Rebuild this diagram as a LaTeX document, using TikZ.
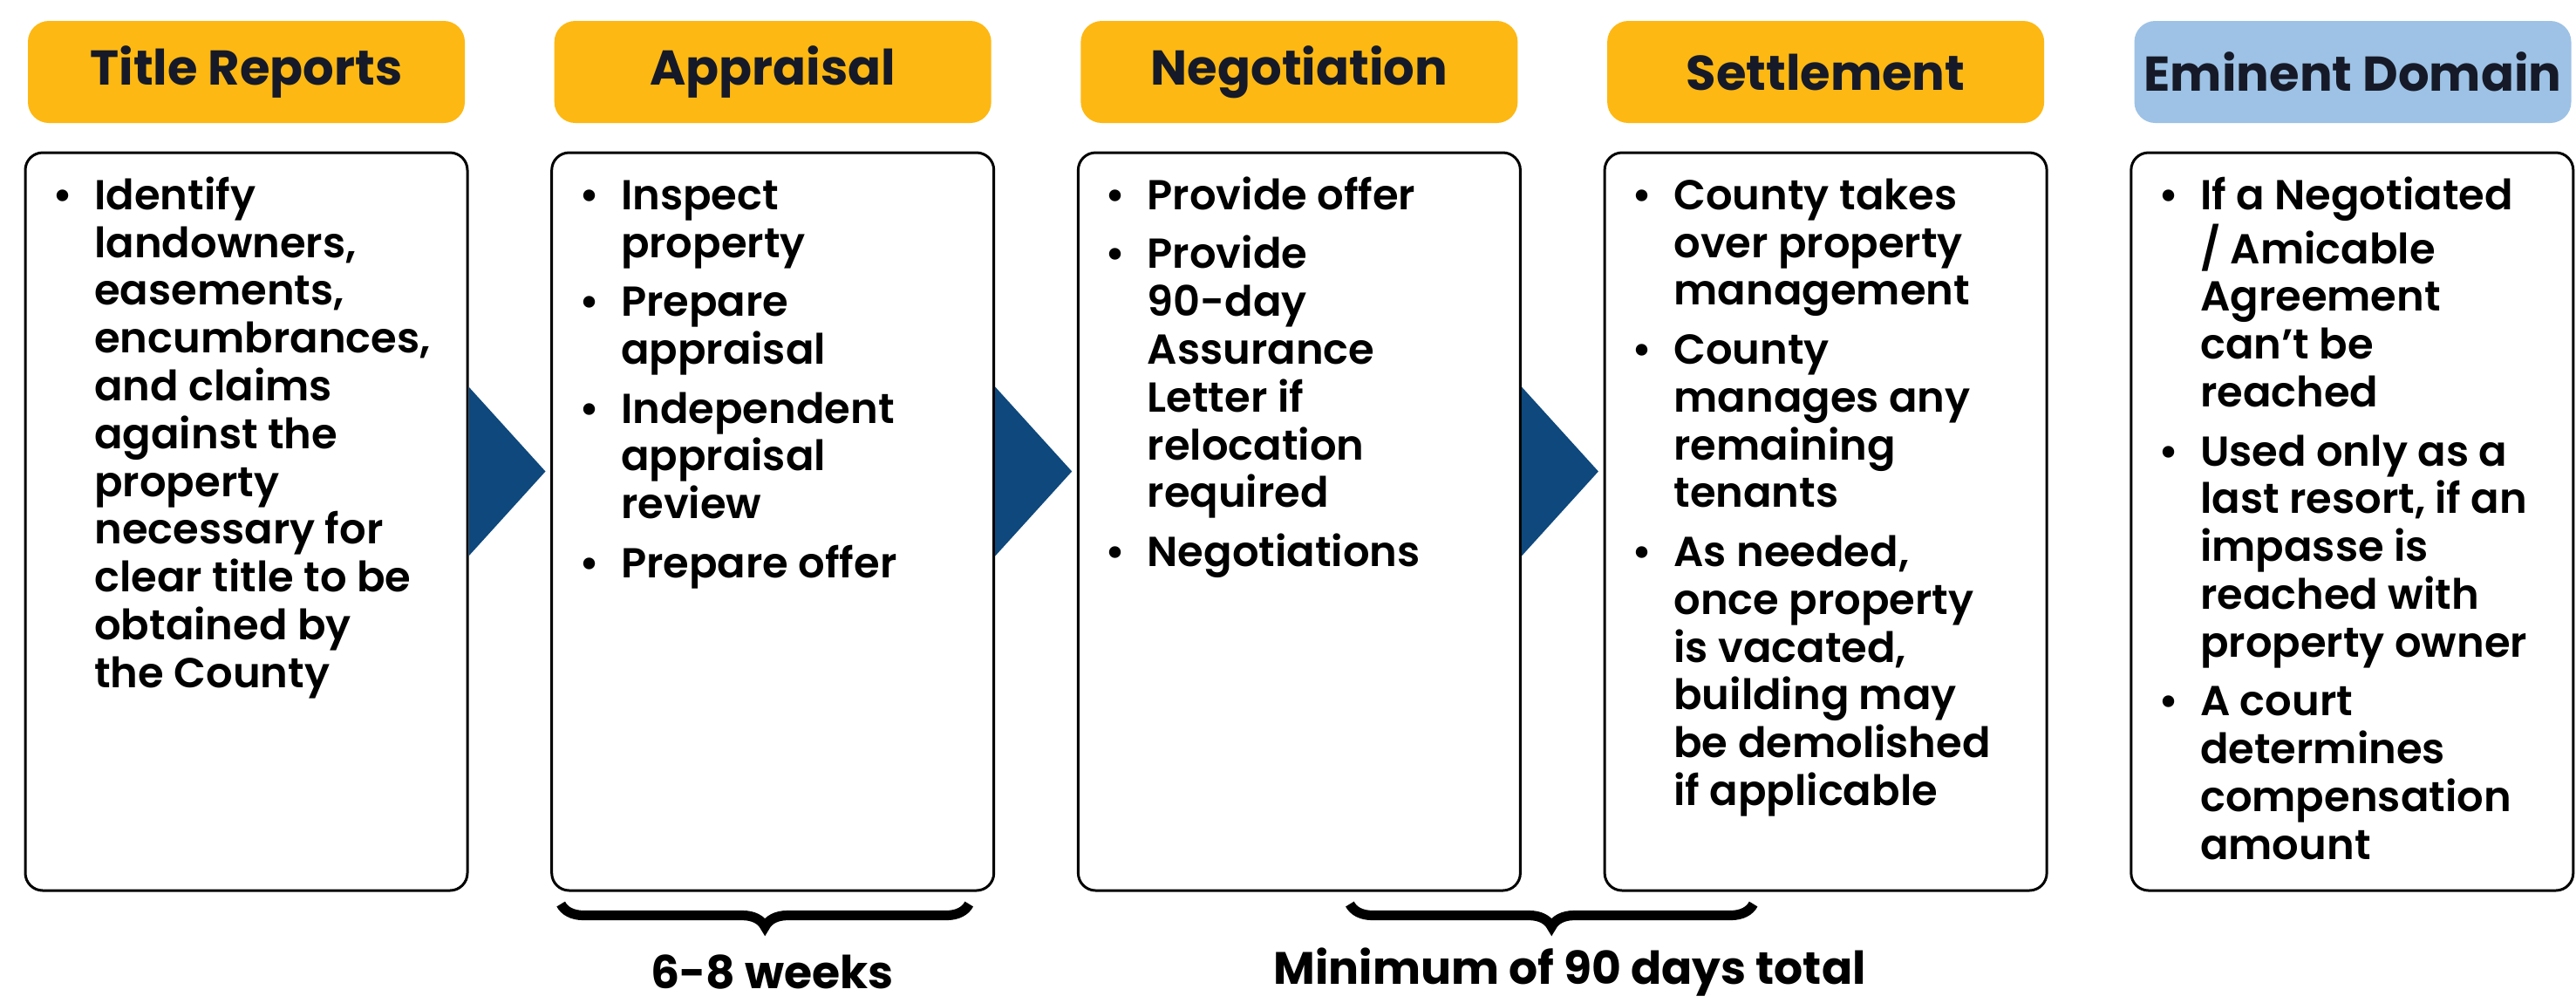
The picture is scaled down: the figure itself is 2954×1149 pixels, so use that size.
\documentclass[tikz,border=0pt]{standalone}
\usepackage{fontspec}
\setmainfont{Poppins}[UprightFont={* SemiBold},BoldFont={* Bold}]
\usetikzlibrary{positioning,calc,decorations.pathreplacing}
\definecolor{headyellow}{RGB}{253,184,19}
\definecolor{headblue}{RGB}{157,194,229}
\definecolor{arrowblue}{RGB}{14,72,124}
\definecolor{headtext}{RGB}{22,26,40}
\newcommand{\bul}{\makebox[12pt][l]{\textbullet}}
\newcommand{\steplist}[1]{\fontsize{12}{13.7}\selectfont\begin{tabular}{@{}l@{}l@{}}#1\end{tabular}}

\begin{document}
\begin{tikzpicture}[x=0.25pt,y=-0.25pt,
  stephead/.style={fill=headyellow,rounded corners=6pt,minimum width=125.25pt,minimum height=29.25pt,inner sep=0pt,text=headtext,font=\bfseries\fontsize{14}{16}\selectfont},
  stepbox/.style={draw=black,line width=0.75pt,rounded corners=5pt,minimum width=126.75pt,minimum height=211.5pt,inner sep=0pt},
  steptext/.style={inner sep=0pt,anchor=north west},
  flowarrow/.style={fill=arrowblue},
  timebrace/.style={decorate,decoration={brace,mirror,amplitude=6.5pt},line width=2.8pt},
  timelabel/.style={inner sep=0pt,font=\bfseries\fontsize{13}{15}\selectfont}]
\useasboundingbox (0,0) rectangle (2954,1149);
\path (282.5,82.5) node(h1)[stephead] {Title Reports};
\path (886.2,82.5) node(h2)[stephead] {Appraisal};
\path (1489.9,82.5) node(h3)[stephead] {Negotiation};
\path (2093.6,82.5) node(h4)[stephead] {Settlement};
\path (2698,82.5) node(h5)[stephead,fill=headblue] {Eminent Domain};
\path (282.5,598) node(b1)[stepbox] {};
\path (886.2,598) node(b2)[stepbox] {};
\path (1489.9,598) node(b3)[stepbox] {};
\path (2093.6,598) node(b4)[stepbox] {};
\path (2697.3,598) node(b5)[stepbox] {};
\node(t1)[steptext,below right=6.9pt and 8pt of b1.north west] {\steplist{\bul & Identify\\ & landowners,\\ & easements,\\ & encumbrances,\\ & and claims\\ & against the\\ & property\\ & necessary for\\ & clear title to be\\ & obtained by\\ & the County}};
\node(t2)[steptext,below right=6.9pt and 8pt of b2.north west] {\steplist{\bul & Inspect\\ & property\\[3.2pt] \bul & Prepare\\ & appraisal\\[3.2pt] \bul & Independent\\ & appraisal\\ & review\\[3.2pt] \bul & Prepare offer}};
\node(t3)[steptext,below right=6.9pt and 8pt of b3.north west] {\steplist{\bul & Provide offer\\[3.2pt] \bul & Provide\\ & 90-day\\ & Assurance\\ & Letter if\\ & relocation\\ & required\\[3.2pt] \bul & Negotiations}};
\node(t4)[steptext,below right=6.9pt and 8pt of b4.north west] {\steplist{\bul & County takes\\ & over property\\ & management\\[3.2pt] \bul & County\\ & manages any\\ & remaining\\ & tenants\\[3.2pt] \bul & As needed,\\ & once property\\ & is vacated,\\ & building may\\ & be demolished\\ & if applicable}};
\node(t5)[steptext,below right=6.9pt and 8pt of b5.north west] {\steplist{\bul & If a Negotiated\\ & / Amicable\\ & Agreement\\ & can’t be\\ & reached\\[3.2pt] \bul & Used only as a\\ & last resort, if an\\ & impasse is\\ & reached with\\ & property owner\\[3.2pt] \bul & A court\\ & determines\\ & compensation\\ & amount}};
\foreach \i in {1,2,3}
  \fill[flowarrow] ($(b\i.north east)+(0,270)$) -- ++(88,97) -- ++(-88,97) -- cycle;
\coordinate (br1a) at ($(b2.south west)+(12,14)$);
\coordinate (br1b) at ($(b2.south east)+(-30,14)$);
\coordinate (br2a) at ($(b3.south)+(58,14)$);
\coordinate (br2b) at ($(b4.south)+(-83,14)$);
\draw[timebrace] (br1a) -- (br1b);
\draw[timebrace] (br2a) -- (br2b);
\path ($(br1a)!0.5!(br1b)+(8,78)$) node(l1)[timelabel] {6-8 weeks};
\path ($(br2a)!0.5!(br2b)+(21,78)$) node(l2)[timelabel] {Minimum of 90 days total};
\end{tikzpicture}
\end{document}
